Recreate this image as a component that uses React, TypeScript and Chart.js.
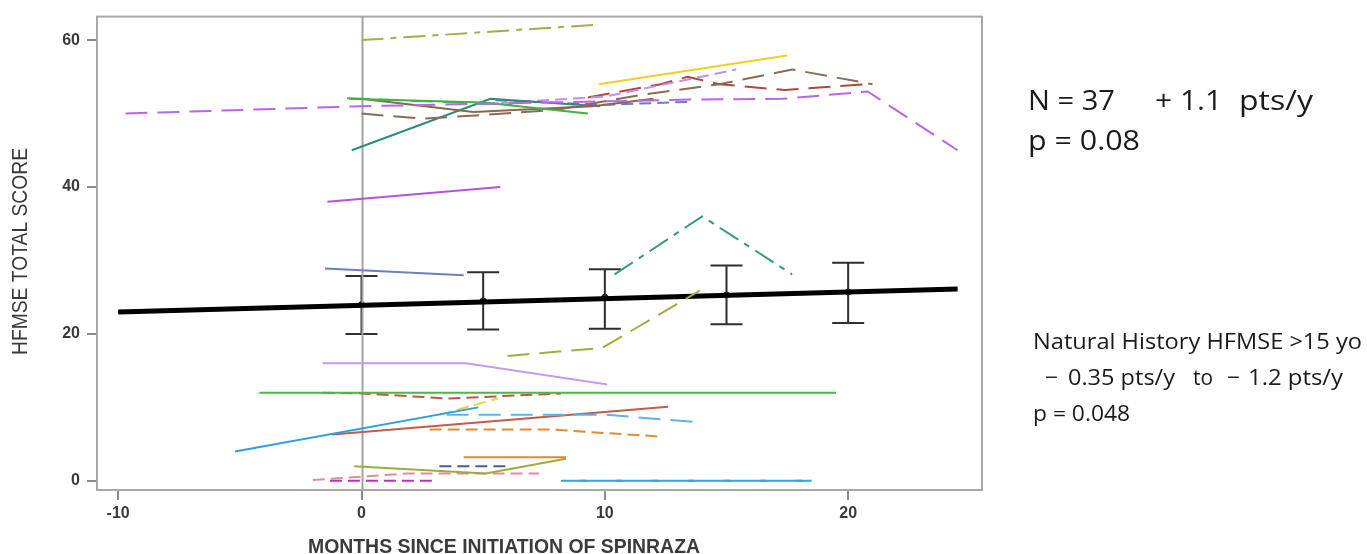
import React, { useEffect, useRef } from "react";
import { Chart, registerables } from "chart.js";

Chart.register(...registerables);

// ---- axes ----
const xTicks = [-10, 0, 10, 20];
const yTicks = [0, 20, 40, 60];
const xRange = [-10.87, 25.5];
const yRange = [-1.25, 63.2];

// ---- group mean + error bars ----
const meanMonths = [0, 5, 10, 15, 20];
const meanScores = [24.0, 24.5, 25.0, 25.3, 25.7];
const ciLow = [20.0, 20.6, 20.7, 21.3, 21.5];
const ciHigh = [27.9, 28.4, 28.8, 29.3, 29.7];

// ---- fitted regression line ----
const fitMonths = [-10, 24.5];
const fitScores = [23.0, 26.1];

// ---- individual patients: [month, score] ----
const p01 = [[0, 60], [9.7, 62.1]];
const p02 = [[9.75, 54], [17.5, 57.9]];
const p03 = [[-9.7, 50], [0, 51], [13.6, 51.9], [17.3, 52], [20.8, 53], [24.5, 45]];
const p04 = [[-0.5, 52], [5, 51.5], [9.3, 50]];
const p05 = [[-0.6, 52.1], [6.2, 51.2]];
const p06 = [[0, 52], [4.6, 50.2], [9.5, 51], [12, 52]];
const p07 = [[0, 50], [2.5, 49.3], [5, 49.8], [8, 50.5], [11.4, 52.5], [14.7, 54], [17.7, 56], [21, 54]];
const p08 = [[-0.4, 45], [5.3, 52], [9.8, 51]];
const p09 = [[5.5, 51.8], [10, 51.2], [13.5, 51.6]];
const p10 = [[5, 51.3], [10, 52.3], [15.4, 56]];
const p11 = [[9.3, 52.2], [12.3, 54], [13.4, 55], [14.7, 54], [17.4, 53.2], [20.7, 54]];
const p12 = [[-1.4, 38], [5.7, 40]];
const p13 = [[-1.5, 28.9], [4.2, 28]];
const p14 = [[10.4, 28.1], [14, 36], [17.7, 28.1]];
const p15 = [[6, 17], [9.9, 18.1], [13.9, 25.9]];
const p16 = [[-1.6, 16], [4.3, 16], [10.1, 13.1]];
const p17 = [[-4.2, 12], [19.5, 12]];
const p18 = [[-1.6, 12], [0, 11.9], [3.6, 11.2], [8.2, 11.9]];
const p19 = [[-5.2, 4], [4.8, 10]];
const p20 = [[3.2, 9], [5.6, 11.2]];
const p21 = [[3.5, 9], [10, 9], [13.8, 8]];
const p22 = [[-1.2, 6.3], [12.6, 10.1]];
const p23 = [[2.8, 7], [7.7, 7], [12.4, 6]];
const p24 = [[4.2, 3.2], [8.4, 3.2]];
const p25 = [[-0.3, 2], [5.1, 1], [8.4, 3]];
const p26 = [[3.2, 2], [6, 2]];
const p27 = [[-2, 0.1], [1.9, 1], [7.3, 1]];
const p28 = [[-1.3, 0], [2.9, 0]];
const p29 = [[8.2, 0], [18.5, 0]];
const p30 = [[9, 0], [18.5, 0]];

const patients = [p01, p02, p03, p04, p05, p06, p07, p08, p09, p10, p11, p12, p13, p14, p15,
  p16, p17, p18, p19, p20, p21, p22, p23, p24, p25, p26, p27, p28, p29, p30];

// styles (colour, dash) per patient, same order
const SOLID: number[] = [];
const DASH = [12, 6];
const LONG = [22, 10];
const DDOT = [22, 7, 6, 7];
const patientStyles: [string, number[]][] = [
  ["#a4ad45", DDOT],
  ["#f2cf1f", SOLID],
  ["#b865ea", LONG],
  ["#3cb443", SOLID],
  ["#44b84a", LONG],
  ["#8a6650", SOLID],
  ["#8a6c55", LONG],
  ["#2b8c7a", SOLID],
  ["#6b7cc0", DASH],
  ["#c48ef0", DASH],
  ["#b0463c", LONG],
  ["#b552e0", SOLID],
  ["#6d7fbd", SOLID],
  ["#34977f", DDOT],
  ["#a0ab40", LONG],
  ["#c79af2", SOLID],
  ["#44bb44", SOLID],
  ["#c05542", DASH],
  ["#2b9ee6", SOLID],
  ["#f0d02a", DASH],
  ["#5ab4ea", LONG],
  ["#c45a48", SOLID],
  ["#e08a34", DASH],
  ["#e38a22", SOLID],
  ["#9aad3c", SOLID],
  ["#4b5a9c", DASH],
  ["#e488a8", DASH],
  ["#c42ac4", DASH],
  ["#2aa4ea", SOLID],
  ["#e0506a", [6, 30]],
];

function drawFitted(ctx: CanvasRenderingContext2D, text: string, x: number, y: number, w: number, font: string) {
  ctx.save();
  ctx.font = font;
  const m = ctx.measureText(text).width;
  ctx.translate(x, y);
  ctx.scale(w / m, 1);
  ctx.fillText(text, 0, 0);
  ctx.restore();
}

const overlayPlugin = {
  id: "overlay",
  beforeDatasetDraw(chart: any, args: any) {
    if (args.index !== patients.length) return;
    const ctx = chart.ctx as CanvasRenderingContext2D;
    const xs = chart.scales.x;
    const ys = chart.scales.y;
    const area = chart.chartArea;
    ctx.save();
    // error bars
    ctx.strokeStyle = "#2e2e2e";
    ctx.lineWidth = 2;
    meanMonths.forEach((m, i) => {
      const px = xs.getPixelForValue(m);
      const lo = ys.getPixelForValue(ciLow[i]);
      const hi = ys.getPixelForValue(ciHigh[i]);
      ctx.beginPath();
      ctx.moveTo(px, lo);
      ctx.lineTo(px, hi);
      ctx.moveTo(px - 16, lo);
      ctx.lineTo(px + 16, lo);
      ctx.moveTo(px - 16, hi);
      ctx.lineTo(px + 16, hi);
      ctx.stroke();
    });
    // reference line at month 0
    const z = Math.round(xs.getPixelForValue(0)) + 0.5;
    ctx.strokeStyle = "#a3a3a3";
    ctx.lineWidth = 2;
    ctx.beginPath();
    ctx.moveTo(z, area.top);
    ctx.lineTo(z, area.bottom);
    ctx.stroke();
    ctx.restore();
  },
  afterDraw(chart: any) {
    const ctx = chart.ctx as CanvasRenderingContext2D;
    const area = chart.chartArea;
    ctx.save();
    // frame
    ctx.strokeStyle = "#a8a8a8";
    ctx.lineWidth = 2;
    ctx.strokeRect(area.left, area.top, area.right - area.left, area.bottom - area.top);
    // axis titles
    ctx.fillStyle = "#3a3a3a";
    ctx.textBaseline = "alphabetic";
    drawFitted(ctx, "MONTHS SINCE INITIATION OF SPINRAZA", 308, 553, 392, "bold 20px 'Liberation Sans'");
    ctx.save();
    ctx.translate(27, 355);
    ctx.rotate(-Math.PI / 2);
    drawFitted(ctx, "HFMSE TOTAL SCORE", 0, 0, 207, "22px 'Liberation Sans'");
    ctx.restore();
    // annotation text
    ctx.fillStyle = "#1a1a1a";
    const f1 = "27px 'Open Sans'";
    drawFitted(ctx, "N = 37", 1028, 110, 87, f1);
    drawFitted(ctx, "+ 1.1", 1155, 110, 67, f1);
    drawFitted(ctx, "pts/y", 1239, 110, 74, f1);
    drawFitted(ctx, "p = 0.08", 1028, 150, 112, f1);
    const f2 = "22px 'Open Sans'";
    drawFitted(ctx, "Natural History HFMSE >15 yo", 1033, 349, 329, f2);
    drawFitted(ctx, "\u2212", 1045, 385, 13, f2);
    drawFitted(ctx, "0.35 pts/y", 1068, 385, 107, f2);
    drawFitted(ctx, "to", 1193, 385, 20, f2);
    drawFitted(ctx, "\u2212", 1227, 385, 13, f2);
    drawFitted(ctx, "1.2 pts/y", 1248, 385, 95, f2);
    drawFitted(ctx, "p = 0.048", 1033, 421, 97, f2);
    ctx.restore();
  },
};

export default function App() {
  const ref = useRef<HTMLCanvasElement | null>(null);
  useEffect(() => {
    if (!ref.current) return;
    const datasets: any[] = patients.map((pts, i) => ({
      data: pts.map(([x, y]) => ({ x, y })),
      borderColor: patientStyles[i][0],
      borderDash: patientStyles[i][1],
      borderWidth: 2,
      showLine: true,
      pointRadius: 0,
      tension: 0,
      fill: false,
    }));
    datasets.push({
      data: fitMonths.map((x, i) => ({ x, y: fitScores[i] })),
      borderColor: "#000000",
      borderWidth: 5,
      showLine: true,
      pointRadius: 0,
      fill: false,
    });
    datasets.push({
      data: meanMonths.map((x, i) => ({ x, y: meanScores[i] })),
      showLine: false,
      pointRadius: 3,
      pointBackgroundColor: "#141a3a",
      pointBorderColor: "#141a3a",
    });
    const tickFont = { family: "'Liberation Sans'", size: 16, weight: "bold" };
    const chart = new Chart(ref.current, {
      type: "scatter",
      data: { datasets },
      options: {
        animation: false,
        responsive: false,
        events: [],
        layout: { padding: { left: 0, top: 15, right: 385, bottom: 0 } },
        plugins: { legend: { display: false }, tooltip: { enabled: false } },
        scales: {
          x: {
            type: "linear",
            min: xRange[0],
            max: xRange[1],
            afterBuildTicks: (s: any) => { s.ticks = xTicks.map((v) => ({ value: v })); },
            afterFit: (s: any) => { s.height = 64; },
            grid: { drawOnChartArea: false, drawTicks: true, tickLength: 10, color: "#8a8a8a", lineWidth: 2 },
            border: { display: false },
            ticks: { color: "#3a3a3a", padding: 4, font: tickFont },
          },
          y: {
            type: "linear",
            min: yRange[0],
            max: yRange[1],
            afterBuildTicks: (s: any) => { s.ticks = yTicks.map((v) => ({ value: v })); },
            afterFit: (s: any) => { s.width = 97; },
            grid: { drawOnChartArea: false, drawTicks: true, tickLength: 10, color: "#8a8a8a", lineWidth: 2 },
            border: { display: false },
            ticks: { color: "#3a3a3a", padding: 7, font: tickFont },
          },
        },
      },
      plugins: [overlayPlugin],
    } as any);
    return () => chart.destroy();
  }, []);
  return (
    <div style={{ position: "fixed", left: 0, top: 0, width: 1367, height: 554, background: "#fff" }}>
      <canvas ref={ref} width={1367} height={554} style={{ display: "block" }} />
    </div>
  );
}
